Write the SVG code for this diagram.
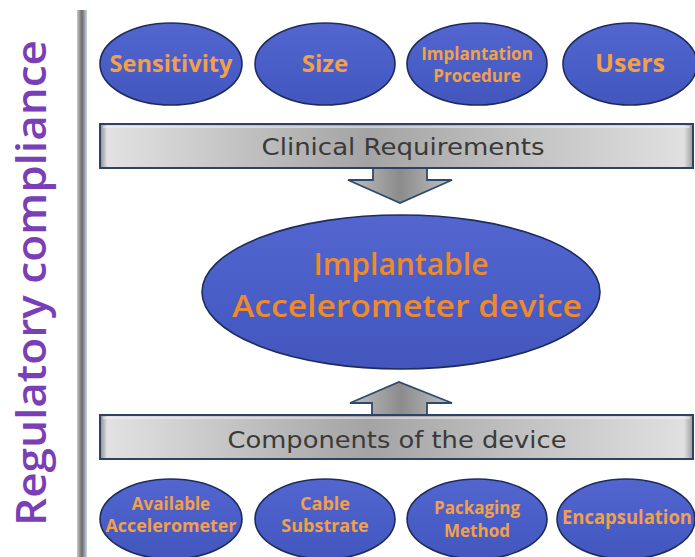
<svg xmlns="http://www.w3.org/2000/svg" width="695" height="557" viewBox="0 0 695 557">
  <defs>
    <linearGradient id="ovalFill" x1="0" y1="0" x2="0" y2="1">
      <stop offset="0" stop-color="#5366d0"/>
      <stop offset="0.5" stop-color="#4a5ec8"/>
      <stop offset="1" stop-color="#4256bd"/>
    </linearGradient>
    <linearGradient id="barFill" x1="0" y1="0" x2="1" y2="0">
      <stop offset="0" stop-color="#8a8a8a"/>
      <stop offset="0.012" stop-color="#e2e2e2"/>
      <stop offset="0.45" stop-color="#a4a4a4"/>
      <stop offset="0.985" stop-color="#e0e0e0"/>
      <stop offset="1" stop-color="#9a9a9a"/>
    </linearGradient>
    <linearGradient id="arrowFill" x1="0" y1="0" x2="1" y2="0">
      <stop offset="0" stop-color="#c0c0c0"/>
      <stop offset="0.5" stop-color="#8c8c8c"/>
      <stop offset="1" stop-color="#c0c0c0"/>
    </linearGradient>
    <linearGradient id="railFill" x1="0" y1="0" x2="1" y2="0">
      <stop offset="0" stop-color="#c8c8c8"/>
      <stop offset="0.5" stop-color="#6a6a6a"/>
      <stop offset="0.8" stop-color="#aaaaaa"/>
      <stop offset="1" stop-color="#bcd6f2"/>
    </linearGradient>
  </defs>
  <style>
    .oval { fill: url(#ovalFill); stroke: #1d2c5a; stroke-width: 1.6; }
    .olab { font-family: "Open Sans", "DejaVu Sans", sans-serif; font-weight: 700; fill: #f2a04a; text-anchor: middle; }
    .bar { fill: url(#barFill); stroke: #2d4266; stroke-width: 2; }
    .bevel { fill: none; stroke: #f4f4f4; stroke-width: 1; }
    .blab { font-family: "DejaVu Sans", "Liberation Sans", sans-serif; fill: #3a3a3a; text-anchor: middle; }
    .arrow { fill: url(#arrowFill); stroke: #2d4a6e; stroke-width: 1.8; stroke-linejoin: miter; }
    .main { font-family: "Open Sans", "DejaVu Sans", sans-serif; font-weight: 600; fill: #ef8a2c; text-anchor: middle; }
  </style>

  <rect width="695" height="557" fill="#ffffff"/>

  <!-- side rail and vertical title -->
  <rect x="77" y="10" width="10" height="547" fill="url(#railFill)"/>
  <text x="0" y="0" transform="translate(46,283) rotate(-90)" font-family="Open Sans, DejaVu Sans, sans-serif" font-weight="600" font-size="42" fill="#7a3fb6" text-anchor="middle" textLength="486" lengthAdjust="spacingAndGlyphs">Regulatory compliance</text>

  <!-- clinical requirement ovals -->
  <g id="sensitivity">
    <ellipse class="oval" cx="171" cy="64" rx="71" ry="41"/>
    <text class="olab" x="171" y="72" font-size="23" textLength="123" lengthAdjust="spacingAndGlyphs">Sensitivity</text>
  </g>
  <g id="size">
    <ellipse class="oval" cx="325" cy="64" rx="70" ry="41"/>
    <text class="olab" x="325" y="72" font-size="24">Size</text>
  </g>
  <g id="implantation-procedure">
    <ellipse class="oval" cx="477" cy="64" rx="70" ry="41"/>
    <text class="olab" x="477" y="60" font-size="17">Implantation</text>
    <text class="olab" x="477" y="82" font-size="17">Procedure</text>
  </g>
  <g id="users">
    <ellipse class="oval" cx="630" cy="64" rx="67" ry="41"/>
    <text class="olab" x="630" y="72" font-size="25">Users</text>
  </g>

  <!-- clinical requirements bar -->
  <g id="clinical-requirements">
    <rect class="bar" x="100" y="124" width="593" height="44"/>
    <line class="bevel" x1="103" y1="127" x2="690" y2="127"/>
    <text class="blab" x="403" y="155" font-size="23" textLength="283" lengthAdjust="spacingAndGlyphs">Clinical Requirements</text>
  </g>

  <!-- central device -->
  <g id="device">
    <ellipse class="oval" cx="401" cy="292" rx="199" ry="77" stroke-width="2"/>
    <text class="main" x="401" y="275" font-size="30">Implantable</text>
    <text class="main" x="407" y="317" font-size="30" textLength="350" lengthAdjust="spacingAndGlyphs">Accelerometer device</text>
  </g>

  <!-- components bar -->
  <g id="components">
    <rect class="bar" x="100" y="415" width="593" height="44"/>
    <line class="bevel" x1="103" y1="418" x2="690" y2="418"/>
    <text class="blab" x="397" y="448" font-size="23" textLength="339" lengthAdjust="spacingAndGlyphs">Components of the device</text>
  </g>

  <!-- connectors -->
  <g id="connectors">
    <path class="arrow" d="M373,169 L373,180 L348,180 L400,203 L452,180 L427,180 L427,169"/>
    <path class="arrow" d="M372,414 L372,403 L350,403 L399,382 L452,403 L427,403 L427,414"/>
  </g>

  <!-- component ovals -->
  <g id="available-accelerometer">
    <ellipse class="oval" cx="171" cy="519" rx="71" ry="40"/>
    <text class="olab" x="171" y="510" font-size="17">Available</text>
    <text class="olab" x="171" y="532" font-size="17" textLength="131" lengthAdjust="spacingAndGlyphs">Accelerometer</text>
  </g>
  <g id="cable-substrate">
    <ellipse class="oval" cx="325" cy="519" rx="70" ry="40"/>
    <text class="olab" x="325" y="510" font-size="18">Cable</text>
    <text class="olab" x="325" y="532" font-size="18">Substrate</text>
  </g>
  <g id="packaging-method">
    <ellipse class="oval" cx="477" cy="519" rx="70" ry="40"/>
    <text class="olab" x="477" y="514" font-size="17">Packaging</text>
    <text class="olab" x="477" y="537" font-size="17">Method</text>
  </g>
  <g id="encapsulation">
    <ellipse class="oval" cx="626" cy="519" rx="69" ry="40"/>
    <text class="olab" x="627" y="524" font-size="19" textLength="130" lengthAdjust="spacingAndGlyphs">Encapsulation</text>
  </g>
</svg>
